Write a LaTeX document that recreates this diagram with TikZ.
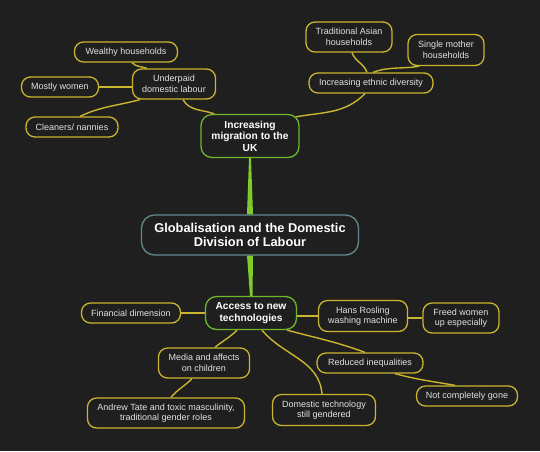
\documentclass[tikz,border=0pt]{standalone}
\usepackage{fontspec}
\setmainfont{Liberation Sans}
\usetikzlibrary{calc}
\definecolor{bg}{HTML}{1F1F1F}
\definecolor{yel}{HTML}{C9B52E}
\definecolor{grn}{HTML}{6FB62C}
\definecolor{lime}{HTML}{7FCB2B}
\definecolor{teal}{HTML}{5E8C8E}
\definecolor{txt}{HTML}{E2E2E2}
\tikzset{
  leaf/.style={draw=yel, line width=1.3pt, rounded corners=9pt, fill=bg, text=txt,
    font=\fontsize{9}{10.5}\selectfont, align=center, inner sep=0pt},
  hub/.style={draw=grn, line width=1.3pt, rounded corners=11pt, fill=bg, text=white,
    font=\bfseries\fontsize{10.2}{11.5}\selectfont, align=center, inner sep=0pt},
  root/.style={draw=teal, line width=1.3pt, rounded corners=13pt, fill=bg, text=white,
    font=\bfseries\fontsize{12.8}{14}\selectfont, align=center, inner sep=0pt},
  link/.style={draw=yel, line width=1.4pt},
}
\begin{document}
\begin{tikzpicture}[x=1pt,y=-1pt]
\fill[bg] (0,0) rectangle (540,451);
\useasboundingbox (0,0) rectangle (540,451);

\path
 (250,235) node[root, minimum width=217pt, minimum height=40pt] (root) {Globalisation and the Domestic\\Division of Labour}
 (250,136) node[hub, minimum width=98pt, minimum height=43pt] (mig) {Increasing\\migration to the\\UK}
 (251,313) node[hub, minimum width=91pt, minimum height=33pt] (tech) {Access to new\\technologies};

% green trunk wedges
\fill[lime] ($(mig.south)+(-1,0)$) -- ($(mig.south)+(1,0)$) -- ($(root.north)+(3,0)$) -- ($(root.north)+(-3,0)$) -- cycle;
\fill[lime] ($(root.south)+(-3,0)$) -- ($(root.south)+(3,0)$) -- ($(tech.north)+(1.5,0)$) -- ($(tech.north)+(-1,0)$) -- cycle;

\path
 (174,84) node[leaf, minimum width=83pt, minimum height=30pt] (under) {Underpaid\\domestic labour}
 (126,52) node[leaf, minimum width=103pt, minimum height=20pt] (wealthy) {Wealthy households}
 (60,87) node[leaf, minimum width=77pt, minimum height=20pt] (women) {Mostly women}
 (72,127) node[leaf, minimum width=92pt, minimum height=20pt] (clean) {Cleaners/ nannies}
 (371,83) node[leaf, minimum width=124pt, minimum height=20pt] (ethnic) {Increasing ethnic diversity}
 (349,37) node[leaf, minimum width=86pt, minimum height=30pt] (asian) {Traditional Asian\\households}
 (446,50) node[leaf, minimum width=76pt, minimum height=31pt] (single) {Single mother\\households}
 (131,313) node[leaf, minimum width=99pt, minimum height=20pt] (fin) {Financial dimension}
 (363,316) node[leaf, minimum width=89pt, minimum height=31pt] (hans) {Hans Rosling\\washing machine}
 (461,318) node[leaf, minimum width=76pt, minimum height=30pt] (freed) {Freed women\\up especially}
 (204,363) node[leaf, minimum width=91pt, minimum height=30pt] (media) {Media and affects\\on children}
 (370,363) node[leaf, minimum width=106pt, minimum height=20pt] (reduced) {Reduced inequalities}
 (467,396) node[leaf, minimum width=101pt, minimum height=20pt] (gone) {Not completely gone}
 (166,413) node[leaf, minimum width=157pt, minimum height=30pt] (tate) {Andrew Tate and toxic masculinity,\\traditional gender roles}
 (324,410) node[leaf, minimum width=103pt, minimum height=31pt] (gender) {Domestic technology\\still gendered};

% connectors (drawn between node borders)
\draw[link] ($(under.south)+(9,0)$) to[out=-60,in=160] ($(mig.north west)+(14,0)$);
\draw[link] ($(wealthy.south)+(6,0)$) to[out=-45,in=160] ($(under.north west)+(15,0)$);
\draw[link] (women.east) -- (under.west |- women.east);
\draw[link] ($(clean.north)+(8,0)$) to[out=25,in=-165] ($(under.south west)+(8,0)$);
\draw[link] ($(ethnic.south)+(-6,0)$) to[out=-135,in=10] ($(mig.north east)+(-4,3)$);
\draw[link] ($(asian.south)+(3,0)$) to[out=-70,in=110] ($(ethnic.north)+(-4,0)$);
\draw[link] ($(single.south west)+(12,0)$) to[out=190,in=20] ($(ethnic.north)+(2,0)$);

\draw[link] (fin.east) -- (tech.west |- fin.east);
\draw[link] (tech.east |- hans.west) -- (hans.west);
\draw[link] (hans.east |- freed.west) -- (freed.west);
\draw[link] ($(tech.south)+(-14,0)$) to[out=-135,in=40] ($(media.north)+(11,0)$);
\draw[link] ($(media.south)+(-12,0)$) to[out=-135,in=50] ($(tate.north)+(5,0)$);
\draw[link] ($(tech.south)+(11,0)$) to[out=-50,in=95] ($(gender.north)+(-2,0)$);
\draw[link] ($(tech.south east)+(-10,0)$) to[out=-15,in=160] ($(reduced.north)+(-5,0)$);
\draw[link] ($(reduced.south)+(25,0)$) to[out=-15,in=170] ($(gone.north)+(-12,0)$);
\end{tikzpicture}
\end{document}
